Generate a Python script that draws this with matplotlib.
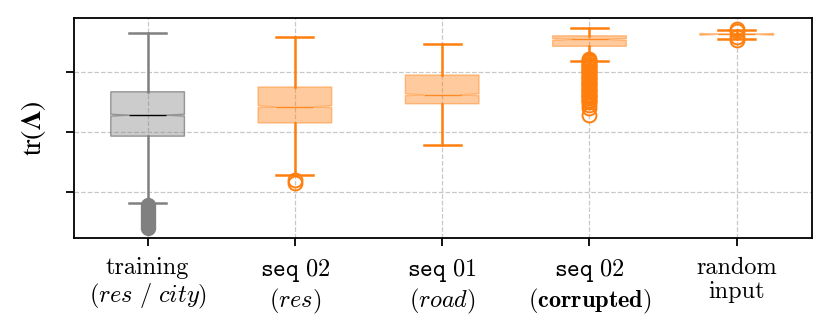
import matplotlib
matplotlib.use("Agg")
import matplotlib.pyplot as plt

plt.rcParams['font.family'] = 'serif'
plt.rcParams['font.serif'] = ['cmr10']
plt.rcParams['mathtext.fontset'] = 'cm'
plt.rcParams['axes.formatter.use_mathtext'] = True

# --- categories / tick labels ---
labels = [
    "training\n" + r"$(\mathit{res}\ /\ \mathit{city})$",
    r"$\mathtt{seq\ 02}$" + "\n" + r"$(\mathit{res})$",
    r"$\mathtt{seq\ 01}$" + "\n" + r"$(\mathit{road})$",
    r"$\mathtt{seq\ 02}$" + "\n" + r"$(\mathbf{corrupted})$",
    "random\ninput",
]

# --- summary statistics (arbitrary units) ---
whislo = [0.82, 1.28, 1.78, 3.19, 3.56]
q1     = [1.93, 2.15, 2.47, 3.43, 3.63]
med    = [2.28, 2.42, 2.62, 3.545, 3.63]
q3     = [2.67, 2.75, 2.95, 3.605, 3.63]
whishi = [3.65, 3.58, 3.47, 3.73, 3.70]

fliers_training = [0.78, 0.75, 0.72, 0.69, 0.66, 0.63, 0.60, 0.57, 0.54, 0.51,
                   0.48, 0.45, 0.42, 0.39]
fliers_seq02 = [1.20, 1.15]
fliers_seq01 = []
fliers_corrupted = [3.22, 3.20, 3.18, 3.16, 3.14, 3.12, 3.10, 3.08, 3.06, 3.04,
                    3.02, 3.00, 2.98, 2.96, 2.94, 2.92, 2.90, 2.88, 2.86, 2.84,
                    2.82, 2.80, 2.78, 2.76, 2.74, 2.72, 2.70, 2.68, 2.66, 2.64,
                    2.62, 2.60, 2.58, 2.56, 2.54, 2.52, 2.50, 2.45, 2.40, 2.28]
fliers_random = [3.72, 3.68, 3.58, 3.54]
fliers = [fliers_training, fliers_seq02, fliers_seq01, fliers_corrupted, fliers_random]

stats = []
for i in range(len(labels)):
    stats.append(dict(whislo=whislo[i], q1=q1[i], med=med[i], q3=q3[i], whishi=whishi[i],
                      cilo=med[i] - 0.015, cihi=med[i] + 0.015, fliers=fliers[i]))

ORANGE = '#ff7f0e'
GRAY = '#808080'

fig, ax = plt.subplots(figsize=(8.31, 3.3), dpi=100)
fig.subplots_adjust(left=0.089, right=0.977, bottom=0.279, top=0.945)

# training box (gray)
ax.bxp([stats[0]], positions=[1], widths=0.5, shownotches=True, patch_artist=True,
       boxprops=dict(facecolor=(0.5, 0.5, 0.5, 0.4), edgecolor=(0.5, 0.5, 0.5, 0.8), linewidth=1),
       medianprops=dict(color='black', linewidth=1),
       whiskerprops=dict(color=GRAY, linewidth=1.8),
       capprops=dict(color=GRAY, linewidth=1.8),
       flierprops=dict(marker='o', markerfacecolor=GRAY, markeredgecolor=GRAY, markersize=10))

# other boxes (orange)
ax.bxp(stats[1:], positions=[2, 3, 4, 5], widths=0.5, shownotches=True, patch_artist=True,
       boxprops=dict(facecolor=(1, 0.498, 0.055, 0.4), edgecolor=(1, 0.498, 0.055, 0.45), linewidth=1),
       medianprops=dict(color=ORANGE, linewidth=1, alpha=0.85),
       whiskerprops=dict(color=ORANGE, linewidth=1.8),
       capprops=dict(color=ORANGE, linewidth=1.8),
       flierprops=dict(marker='o', markerfacecolor='none', markeredgecolor=ORANGE,
                       markersize=10, markeredgewidth=1.4))

ax.set_xlim(0.5, 5.51)
ax.set_ylim(0.23, 3.9)
ax.set_xticks([1, 2, 3, 4, 5])
ax.set_xticklabels(labels, fontsize=17.5, linespacing=1.1)
ax.set_yticks([1, 2, 3])
ax.set_yticklabels([])
ax.set_ylabel(r"$\mathrm{tr}(\mathbf{\Lambda})$", fontsize=20, labelpad=9,
              math_fontfamily='stix')
ax.tick_params(axis='both', length=6, width=1.3, direction='out')
ax.tick_params(axis='x', pad=8)
ax.grid(True, ls='--', color='#c8c8c8', linewidth=0.9)
ax.set_axisbelow(True)
for s in ax.spines.values():
    s.set_linewidth(1.3)

plt.savefig("out.png", dpi=100)
